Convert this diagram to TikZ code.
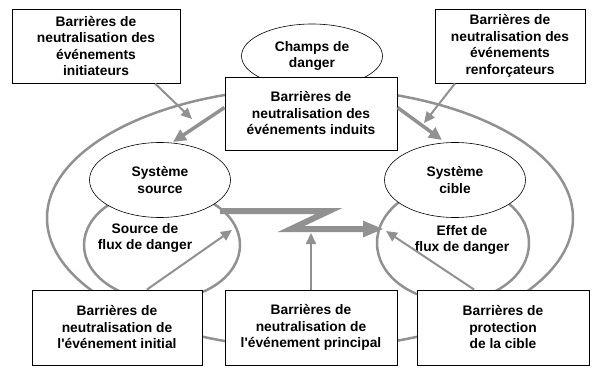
\documentclass[tikz,border=0pt]{standalone}
\usepackage{fontspec}
\setmainfont{Liberation Sans}
\usetikzlibrary{arrows.meta,shapes.geometric}
\definecolor{loopgray}{RGB}{145,145,145}
\begin{document}
\begin{tikzpicture}[x=1pt,y=-1pt,
	barrier/.style={draw, fill=white, line width=1pt, rectangle, align=center, inner sep=0pt, font=\bfseries\fontsize{13.8}{16.5}\selectfont},
	system/.style={draw, fill=white, line width=0.6pt, ellipse, align=center, inner sep=0pt, font=\bfseries\fontsize{13.8}{16.5}\selectfont},
	flowtext/.style={align=center, inner sep=0pt, font=\bfseries\fontsize{13.8}{16.5}\selectfont},
	hazardloop/.style={draw=loopgray, line width=2.5pt},
	thin arrow/.style={draw=loopgray, line width=2pt, -{Triangle[length=11pt,width=10pt,fill=loopgray]}},
	thick arrow/.style={draw=loopgray, line width=3.5pt, -{Triangle[length=13pt,width=12pt,fill=loopgray]}},
	zigzag/.style={draw=loopgray, line width=6pt, line join=miter, miter limit=20, -{Triangle[length=21pt,width=15pt,fill=loopgray]}}]
	\useasboundingbox (0,0) rectangle (592,367);
	\draw[hazardloop] (310,218) ellipse [x radius=263pt, y radius=130pt];
	\draw[hazardloop] (162,245) ellipse [x radius=78pt, y radius=55pt];
	\draw[hazardloop] (453,243) ellipse [x radius=76pt, y radius=58pt];
	\draw (312,56) node[system, minimum width=141pt, minimum height=64pt](champs){Champs de\\danger};
	\draw (160,180) node[system, minimum width=141pt, minimum height=75pt](source){Système\\source};
	\draw (455,180) node[system, minimum width=141pt, minimum height=75pt](cible){Système\\cible};
	\draw (96,46) node[barrier, minimum width=168pt, minimum height=74pt](initiateurs){Barrières de\\neutralisation des\\événements\\initiateurs};
	\draw (510,46) node[barrier, minimum width=150pt, minimum height=74pt](renforcateurs){Barrières de\\neutralisation des\\événements\\renforçateurs};
	\draw (311,113.5) node[barrier, minimum width=172pt, minimum height=73pt](induits){Barrières de\\neutralisation des\\événements induits};
	\draw (117,327.5) node[barrier, minimum width=170pt, minimum height=75pt](initial){Barrières de\\neutralisation de\\l\textquotesingle événement initial};
	\draw (311,327.5) node[barrier, minimum width=172pt, minimum height=75pt](principal){Barrières de\\neutralisation de\\l\textquotesingle événement principal};
	\draw (503,327.5) node[barrier, minimum width=172pt, minimum height=75pt](protection){Barrières de\\protection\\de la cible};
	\draw (145,238) node[flowtext](sourceflux){Source de\\flux de danger};
	\draw (462,240) node[flowtext](effetflux){Effet de\\flux de danger};
	\coordinate (tipinit) at (192,119);
	\coordinate (tipsrc) at (173,142);
	\coordinate (tipcib) at (442,140);
	\coordinate (tipren) at (424,123);
	\coordinate (tipini) at (232,230);
	\coordinate (tippri) at (311,233);
	\coordinate (tippro) at (386,231);
	\coordinate (zstart) at (220,211);
	\coordinate (zturn) at (329,211);
	\coordinate (zback) at (291,229);
	\coordinate (ztip) at (384,229);
	\draw[thin arrow] ([xshift=59pt]initiateurs.south) -- (tipinit);
	\draw[thick arrow] ([yshift=6pt]induits.west) -- (tipsrc);
	\draw[thick arrow] ([yshift=6pt]induits.east) -- (tipcib);
	\draw[thin arrow] ([xshift=-55pt]renforcateurs.south) -- (tipren);
	\draw[thin arrow] ([xshift=30pt]initial.north) -- (tipini);
	\draw[thin arrow] (principal.north) -- (tippri);
	\draw[thin arrow] ([xshift=-29pt]protection.north) -- (tippro);
	\draw[zigzag] (zstart) -- (zturn) -- (zback) -- (ztip);
\end{tikzpicture}
\end{document}
